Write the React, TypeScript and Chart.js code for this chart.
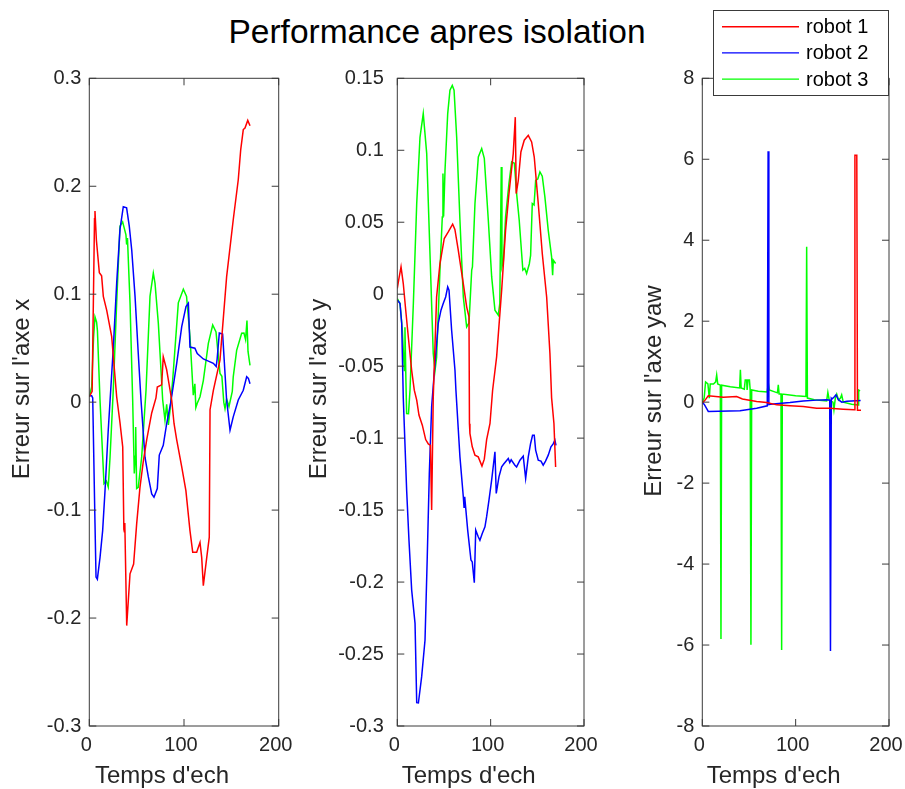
import React, { useEffect, useRef } from 'react';
import { Chart, registerables } from 'chart.js';

Chart.register(...registerables);

const FONT = '"Liberation Sans", Arial, Helvetica, sans-serif';
const TEXT = '#262626';
const AXIS = '#3a3a3a';
const W = 905;
const H = 789;

const TITLE = 'Performance apres isolation';
const SERIES_NAMES = ['robot 1', 'robot 2', 'robot 3'];
const SERIES_COLORS = ['#ff0000', '#0000ff', '#00ff00'];
const X_LABEL = "Temps d'ech";
const X_MIN = 0;
const X_MAX = 200;
const X_STEP = 100;

// ---- Panel 1 : Erreur sur l'axe x  [time, error]
const errX_robot1: [number, number][] = [
  [0, 0.005], [3, 0.01], [5.5, 0.17], [6, 0.177], [7.5, 0.15], [10.6, 0.12], [13, 0.117], [14.8, 0.098],
  [18.4, 0.085], [23.6, 0.061], [28.9, 0.005], [32.4, -0.019], [35.3, -0.0415], [36.5, -0.118], [37, -0.12],
  [37.5, -0.112], [39.5, -0.207], [43, -0.159], [46.8, -0.15], [50, -0.113], [53.5, -0.079], [57, -0.055],
  [60.6, -0.035], [65.9, -0.01], [70.4, 0.004], [71.8, 0.014], [76.4, 0.016], [78.1, 0.042], [81.7, 0.03],
  [87, 0.002], [89.5, -0.02], [92.3, -0.035], [97.6, -0.06], [102, -0.082], [106.3, -0.119], [109.2, -0.139],
  [113.4, -0.139], [116.9, -0.13], [118.7, -0.144], [120.4, -0.17], [124, -0.144], [126.7, -0.125],
  [127.5, -0.007], [131, 0.011], [138, 0.039], [145, 0.116], [152, 0.169], [157.3, 0.206], [159.9, 0.234],
  [162.6, 0.2525], [164.4, 0.254], [167.3, 0.261], [169.7, 0.256],
];
const errX_robot2: [number, number][] = [
  [0, 0.006], [2.5, 0.006], [3.6, 0.004], [6, -0.112], [7.1, -0.162], [8.5, -0.164], [11.3, -0.144],
  [14.1, -0.119], [16.6, -0.082], [20, -0.026], [22.6, 0.011], [25.4, 0.051], [28.9, 0.11], [32.4, 0.16],
  [35.9, 0.181], [39.4, 0.18], [42.2, 0.163], [44.8, 0.141], [48.3, 0.098], [51.7, 0.045], [54.6, 0.002],
  [58.8, -0.051], [62.3, -0.069], [65.9, -0.085], [68.3, -0.088], [71.8, -0.08], [73.9, -0.049], [78.1, -0.04],
  [81.7, -0.02], [85.9, -0.001], [92.3, 0.036], [97.6, 0.07], [102.1, 0.0885], [104.6, 0.0916], [106.3, 0.051],
  [111.5, 0.05], [114, 0.045], [120.4, 0.04], [125.7, 0.038], [131, 0.036], [134, 0.033], [135, 0.04],
  [137.3, 0.064], [140.8, 0.063], [145, 0.002], [148.6, -0.026], [152, -0.0136], [157.3, 0.002],
  [162.6, 0.011], [166.2, 0.0235], [168, 0.022], [169.7, 0.017],
];
const errX_robot3: [number, number][] = [
  [0, 0.005], [2.5, 0.014], [4.5, 0.06], [6, 0.079], [7.7, 0.074], [8.6, 0.066], [11.3, 0.002], [15.5, -0.0755],
  [18, -0.073], [20, -0.0786], [21.9, -0.051], [25.3, 0.011], [28.9, 0.092], [32.4, 0.163], [35.2, 0.167],
  [38.7, 0.155], [39.4, 0.146], [40.3, 0.152], [43, 0.092], [45.8, 0.002], [47.5, -0.066], [48.5, -0.05],
  [49, -0.023], [50, -0.08], [51.7, -0.079], [55.3, -0.051], [59.9, 0.011], [64.1, 0.098], [67.6, 0.1195],
  [69.4, 0.11], [72.9, 0.073], [77.5, 0.002], [79.9, -0.0167], [81.7, -0.002], [83.5, -0.021], [85.3, -0.007],
  [88, 0.02], [94, 0.092], [99.3, 0.1046], [102.7, 0.098], [106.3, 0.061], [109.8, 0.0065], [111.5, 0.017],
  [112.5, -0.005], [114, -0.001], [116.9, 0.005], [120.4, 0.02], [125.7, 0.0545], [130.3, 0.0715],
  [133.8, 0.065], [138, 0.0266], [140, 0.024], [142, 0.0], [143.3, -0.006], [145, 0.003], [147.5, -0.004],
  [151, 0.01], [152, 0.0235], [155.6, 0.048], [160.9, 0.0638], [163.3, 0.064], [165, 0.058], [166.5, 0.0755],
  [167.6, 0.047], [169.7, 0.034],
];

// ---- Panel 2 : Erreur sur l'axe y
const errY_robot1: [number, number][] = [
  [0, 0.004], [1.5, 0.01], [4, 0.019], [6.4, 0.0074], [9, -0.011], [11.8, -0.0297], [15.4, -0.053],
  [18.2, -0.0667], [20.8, -0.0736], [23.2, -0.084], [26.8, -0.091], [30.4, -0.101], [33.2, -0.104],
  [35.5, -0.105], [36.8, -0.15], [38.5, -0.072], [42.1, -0.002], [45.7, 0.0213], [50.3, 0.0387],
  [54.6, 0.0433], [59.3, 0.0486], [61.7, 0.045], [65.3, 0.0306], [70.7, 0.0074], [74.3, -0.0088],
  [76.8, -0.0157], [77.3, -0.09], [77.8, -0.0967], [80.3, -0.106], [83.2, -0.1118], [86.7, -0.113],
  [90.7, -0.1194], [93.2, -0.1146], [95.7, -0.101], [99.3, -0.0898], [102.1, -0.0667], [106.4, -0.0435],
  [111.8, 0.0028], [116, 0.0444], [119.6, 0.0699], [124.2, 0.0977], [126.4, 0.123], [127.4, 0.0699],
  [129.6, 0.079], [132.4, 0.0988], [136, 0.107], [140.3, 0.1104], [143.9, 0.1058], [146.7, 0.0953],
  [151, 0.063], [155.3, 0.0283], [160, -0.0019], [163.5, -0.0412], [165.3, -0.072], [167.8, -0.0898],
  [169.6, -0.12],
];
const errY_robot2: [number, number][] = [
  [0, -0.004], [2.9, -0.0065], [4.7, -0.02], [6.4, -0.072], [10, -0.136], [12.5, -0.171], [15.4, -0.2056],
  [19, -0.2287], [20.8, -0.2838], [22.6, -0.284], [26.1, -0.2657], [29.7, -0.2403], [32.1, -0.1824],
  [34.3, -0.1245], [36.8, -0.078], [40.4, -0.048], [43.9, -0.02], [46.8, -0.0111], [49.2, -0.0065],
  [51.8, -0.0019], [54, 0.0051], [55.4, 0.0028], [58.2, -0.025], [61.8, -0.053], [62.8, -0.0667],
  [67.1, -0.113], [70.7, -0.1407], [71.5, -0.148], [72.2, -0.1407], [75.4, -0.1639], [78.9, -0.1847],
  [80.3, -0.186], [82.5, -0.2005], [84, -0.1639], [86.7, -0.1685], [88.5, -0.171], [91, -0.1662],
  [93.9, -0.1616], [95.7, -0.1546], [98.2, -0.143], [101.1, -0.129], [104.6, -0.1095], [106, -0.1384],
  [108.9, -0.1269], [111.8, -0.12], [114, -0.118], [116, -0.1164], [118.9, -0.1141], [120.5, -0.117],
  [122, -0.115], [126, -0.1188], [127.8, -0.12], [131.4, -0.1153], [134.9, -0.1125], [137.5, -0.128],
  [140.3, -0.113], [142.8, -0.1037], [144.9, -0.098], [146.7, -0.098], [148.2, -0.1083], [151, -0.1153],
  [153.9, -0.116], [156.3, -0.1188], [158.8, -0.116], [161.7, -0.1118], [164.6, -0.106], [167, -0.104],
  [168.8, -0.1014], [170, -0.105],
];
const errY_robot3: [number, number][] = [
  [0, -0.003], [2.9, -0.0065], [5.4, -0.025], [7.5, -0.053], [8.2, -0.023], [9.3, -0.062], [10, -0.0829],
  [12, -0.083], [13.6, -0.0667], [17.2, -0.0065], [20.8, 0.063], [24.3, 0.109], [27.8, 0.1255],
  [31.5, 0.0977], [35, 0.0283], [38.5, -0.0412], [40.4, -0.053], [42.1, -0.044], [45.7, 0.0167],
  [48.2, 0.0537], [48.9, 0.0838], [49.6, 0.054], [51.1, 0.086], [54, 0.1255], [56.4, 0.1417], [58.9, 0.1451],
  [60.8, 0.1417], [63.6, 0.1092], [67.1, 0.0514], [70.7, -0.0019], [74.3, -0.0227], [76.8, -0.02],
  [79.7, 0.0167], [80.5, 0.019], [83.2, 0.063], [86.8, 0.0953], [90.4, 0.1012], [93.2, 0.0944],
  [97.5, 0.0514], [101.1, 0.012], [104.6, -0.0111], [108.2, -0.0146], [109.8, -0.0065], [111.4, 0.0884],
  [112.1, 0.019], [113.6, 0.023], [116, 0.0537], [119.6, 0.0769], [122.5, 0.0919], [125.4, 0.091],
  [127.8, 0.07], [130.6, 0.0514], [133.2, 0.0283], [134.5, 0.0167], [136.5, 0.018], [138.5, 0.0144],
  [141.4, 0.021], [142.8, 0.027], [144.6, 0.063], [146.5, 0.062], [148.2, 0.079], [150.5, 0.08],
  [152.8, 0.0849], [155.3, 0.082], [158.1, 0.0676], [161.7, 0.0444], [165.3, 0.0259], [166.4, 0.0132],
  [167.1, 0.0236], [169.6, 0.0213],
];

// ---- Panel 3 : Erreur sur l'axe yaw
const errYaw_robot1: [number, number][] = [
  [0, -0.02], [3, 0.05], [6.4, 0.155], [22.5, 0.12], [36.8, 0.14], [43, 0.08], [58.2, 0.015], [68.9, -0.01],
  [79.7, -0.067], [94, -0.09], [108.1, -0.108], [122.5, -0.15], [136.8, -0.15], [151, -0.173],
  [162.8, -0.19], [163.5, 6.1], [165.5, 6.1], [166.2, -0.2], [170, -0.2],
];
const errYaw_robot2: [number, number][] = [
  [0, -0.02], [2, -0.05], [6.4, -0.23], [40.4, -0.21], [58.2, -0.15], [69.6, -0.09], [70.5, 6.2],
  [71.3, -0.06], [73, -0.05], [93.9, -0.01], [108.1, 0.03], [122.5, 0.05], [133.2, 0.06], [136.5, 0.05],
  [137.3, -6.15], [138.2, 0.1], [139, 0.08], [141, 0.12], [143.2, 0.18], [145.8, 0.06], [149.4, 0.0],
  [155, 0.02], [169.6, 0.04],
];
const errYaw_robot3: [number, number][] = [
  [0, 0], [2, 0.1], [3.5, 0.5], [6, 0.45], [7.5, 0.1], [8.5, 0.45], [12, 0.45], [14.3, 0.5], [15.4, 0.67],
  [16.5, 0.45], [19.3, 0.42], [20, -5.85], [20.7, 0.42], [30, 0.38], [40, 0.35], [40.8, 0.8], [41.6, 0.35],
  [45, 0.32], [46, 0.55], [47.5, 0.55], [48, 0.3], [49, 0.55], [50.5, 0.55], [51.3, 0.3], [52.1, -5.99],
  [52.9, 0.3], [60, 0.27], [69.5, 0.25], [70.7, 0.47], [71.8, 0.3], [80.5, 0.23], [81.4, 0.43], [82.3, 0.2],
  [84.3, 0.2], [85, -6.12], [85.7, 0.2], [100, 0.16], [111, 0.14], [111.8, 3.84], [112.6, 0.1], [120, 0.06],
  [133.2, 0.03], [134.5, 0.24], [136, 0.05], [140, 0.0], [141, -0.19], [142.5, 0.1], [144, 0.2], [146, 0.05],
  [148, 0.1], [149.3, 0.18], [151, 0.0], [160, -0.05], [167, -0.07], [167.5, 0.3], [169, 0.28],
];

// y-axis definitions
const Y_LABELS = ["Erreur sur l'axe x", "Erreur sur l'axe y", "Erreur sur l'axe yaw"];
const Y_MIN = [-0.3, -0.3, -8];
const Y_MAX = [0.3, 0.15, 8];
const Y_STEP = [0.1, 0.05, 2];

// layout (pixels)
const LAYOUT = [
  { plotLeft: 89.3, plotRight: 278.7, labelX: 22, labelY: 389, tickPad: 8 },
  { plotLeft: 397.3, plotRight: 584, labelX: 319, labelY: 389, tickPad: 13.5 },
  { plotLeft: 702.3, plotRight: 889, labelX: 654, labelY: 391, tickPad: 8 },
];
const PLOT_TOP = 78.3;
const PLOT_BOTTOM = 726;
const X_LABEL_BASELINE = 783;
const X_LABEL_HALF = 89; // label starts this far left of the axes centre

const PANEL_SERIES = [
  [errX_robot1, errX_robot2, errX_robot3],
  [errY_robot1, errY_robot2, errY_robot3],
  [errYaw_robot1, errYaw_robot2, errYaw_robot3],
];

const fmt = (v: number) => String(Math.round(v * 1000) / 1000);

const boxPlugin = {
  id: 'matlabBox',
  afterDraw(chart: any, _args: any, opts: any) {
    const { ctx, chartArea: a, scales } = chart;
    ctx.save();
    ctx.strokeStyle = AXIS;
    ctx.lineWidth = 1;
    ctx.strokeRect(a.left, a.top, a.right - a.left, a.bottom - a.top);
    const TL = 7;
    ctx.beginPath();
    scales.x.ticks.forEach((t: any) => {
      const px = scales.x.getPixelForValue(t.value);
      ctx.moveTo(px, a.bottom);
      ctx.lineTo(px, a.bottom - TL);
      ctx.moveTo(px, a.top);
      ctx.lineTo(px, a.top + TL);
    });
    scales.y.ticks.forEach((t: any) => {
      const py = scales.y.getPixelForValue(t.value);
      ctx.moveTo(a.left, py);
      ctx.lineTo(a.left + TL, py);
      ctx.moveTo(a.right, py);
      ctx.lineTo(a.right - TL, py);
    });
    ctx.stroke();

    // axis titles
    ctx.fillStyle = TEXT;
    ctx.font = `24px ${FONT}`;
    ctx.textAlign = 'left';
    ctx.textBaseline = 'alphabetic';
    const cx = (a.left + a.right) / 2;
    ctx.fillText(opts.xLabel, cx - X_LABEL_HALF, X_LABEL_BASELINE);

    ctx.save();
    ctx.translate(opts.labelX, opts.labelY);
    ctx.rotate(-Math.PI / 2);
    ctx.textAlign = 'center';
    ctx.textBaseline = 'middle';
    ctx.fillText(opts.yLabel, 0, 0);
    ctx.restore();

    if (opts.legend) {
      const lx = 713.5, ly = 10.5, lw = 175, lh = 85;
      ctx.fillStyle = '#ffffff';
      ctx.fillRect(lx, ly, lw, lh);
      ctx.strokeStyle = AXIS;
      ctx.lineWidth = 1;
      ctx.strokeRect(lx, ly, lw, lh);
      ctx.font = `20px ${FONT}`;
      ctx.textBaseline = 'middle';
      ctx.textAlign = 'left';
      chart.data.datasets.forEach((ds: any, i: number) => {
        const y = 26.7 + i * 26.2;
        ctx.strokeStyle = ds.borderColor;
        ctx.lineWidth = 1.4;
        ctx.beginPath();
        ctx.moveTo(722, y);
        ctx.lineTo(799, y);
        ctx.stroke();
        ctx.fillStyle = '#000';
        ctx.fillText(ds.label, 806, y + 1);
      });
    }
    ctx.restore();
  },
};

function Panel({ index }: { index: number }) {
  const ref = useRef<HTMLCanvasElement>(null);
  useEffect(() => {
    const lay = LAYOUT[index];
    const yAxisWidth = 60;
    const xAxisHeight = H - PLOT_BOTTOM;
    const chart = new Chart(ref.current as HTMLCanvasElement, {
      type: 'line',
      data: {
        datasets: PANEL_SERIES[index].map((s, i) => ({
          label: SERIES_NAMES[i],
          data: s.map(([x, y]) => ({ x, y })),
          borderColor: SERIES_COLORS[i],
          backgroundColor: SERIES_COLORS[i],
          borderWidth: 1.5,
          pointRadius: 0,
          tension: 0,
          fill: false,
        })),
      },
      options: {
        responsive: false,
        animation: false,
        events: [],
        layout: {
          padding: {
            left: lay.plotLeft - yAxisWidth,
            right: W - lay.plotRight,
            top: PLOT_TOP,
            bottom: 0,
          },
        },
        plugins: {
          legend: { display: false },
          tooltip: { enabled: false },
          title: { display: false },
          matlabBox: {
            legend: index === 2,
            xLabel: X_LABEL,
            yLabel: Y_LABELS[index],
            labelX: lay.labelX,
            labelY: lay.labelY,
          },
        } as any,
        scales: {
          x: {
            type: 'linear',
            min: X_MIN,
            max: X_MAX,
            grid: { display: false, drawTicks: false },
            border: { display: false },
            ticks: {
              stepSize: X_STEP,
              autoSkip: false,
              maxRotation: 0,
              padding: 7.5,
              labelOffset: -3,
              color: TEXT,
              font: { family: FONT, size: 20 },
              callback: (v: any) => fmt(Number(v)),
            },
            title: { display: false },
            afterFit: (scale: any) => {
              scale.height = xAxisHeight;
              scale.paddingLeft = 0;
              scale.paddingRight = 0;
            },
          },
          y: {
            type: 'linear',
            min: Y_MIN[index],
            max: Y_MAX[index],
            grid: { display: false, drawTicks: false },
            border: { display: false },
            ticks: {
              stepSize: Y_STEP[index],
              autoSkip: false,
              padding: lay.tickPad,
              color: TEXT,
              font: { family: FONT, size: 20 },
              callback: (v: any) => fmt(Number(v)),
            },
            title: { display: false },
            afterFit: (scale: any) => {
              scale.width = yAxisWidth;
              scale.paddingTop = 0;
              scale.paddingBottom = 0;
            },
          },
        },
      } as any,
      plugins: [boxPlugin],
    });
    return () => chart.destroy();
  }, [index]);
  return (
    <canvas
      ref={ref}
      width={W}
      height={H}
      style={{ position: 'absolute', left: 0, top: 0, width: W, height: H }}
    />
  );
}

export default function App() {
  return (
    <div
      style={{
        position: 'absolute',
        left: 0,
        top: 0,
        width: W,
        height: H,
        background: '#ffffff',
        overflow: 'hidden',
      }}
    >
      <div
        style={{
          position: 'absolute',
          left: 0,
          top: 14.6,
          width: 874,
          textAlign: 'center',
          fontFamily: FONT,
          fontSize: 33.5,
          lineHeight: '33.5px',
          color: '#000',
          whiteSpace: 'nowrap',
        }}
      >
        {TITLE}
      </div>
      <Panel index={0} />
      <Panel index={1} />
      <Panel index={2} />
    </div>
  );
}
